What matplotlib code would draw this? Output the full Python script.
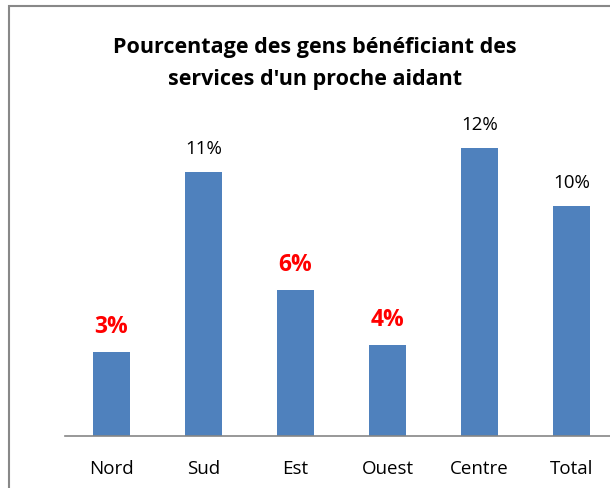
import matplotlib.pyplot as plt
from matplotlib.patches import Rectangle

categories = ['Nord', 'Sud', 'Est', 'Ouest', 'Centre', 'Total']
values = [3.5, 11.0, 6.1, 3.8, 12.0, 9.6]
labels = ['3%', '11%', '6%', '4%', '12%', '10%']
highlight = [True, False, True, True, False, False]

plt.rcParams['font.family'] = ['Open Sans', 'DejaVu Sans']

W, H = 610, 488
fig = plt.figure(figsize=(W / 100, H / 100), dpi=100)

# chart area border (cropped at right and bottom)
fig.patches.append(Rectangle((9 / W, -0.1), 1.2, (H - 6) / H + 0.1,
                             transform=fig.transFigure, fill=False,
                             edgecolor='#888888', linewidth=1.5))

ax = fig.add_axes([65 / W, (H - 436) / H, 553 / W, 336 / H])
ax.bar(range(len(values)), values, width=0.4, color='#4F81BD')
ax.set_xlim(-0.5, 5.5)
ax.set_ylim(0, 14)

for i, (v, lab, hl) in enumerate(zip(values, labels, highlight)):
    if hl:
        ax.annotate(lab, (i, v), xytext=(0, 25), textcoords='offset pixels',
                    ha='center', va='center', color='red', fontweight='bold',
                    fontsize=16.5)
    else:
        ax.annotate(lab, (i, v), xytext=(0, 23), textcoords='offset pixels',
                    ha='center', va='center', color='black', fontsize=13.5)

# category labels
for i, cat in enumerate(categories):
    ax.annotate(cat, (i, 0), xytext=(0, -33), textcoords='offset pixels',
                ha='center', va='center', fontsize=13.5)

ax.set_xticks([])
ax.set_yticks([])
for s in ['top', 'right', 'left']:
    ax.spines[s].set_visible(False)
ax.spines['bottom'].set_color('#868686')
ax.spines['bottom'].set_linewidth(1.2)

fig.text(315 / W, 1 - 47 / H, 'Pourcentage des gens bénéficiant des',
         ha='center', va='center', fontsize=15.5, fontweight='bold')
fig.text(315 / W, 1 - 79 / H, "services d'un proche aidant",
         ha='center', va='center', fontsize=15.5, fontweight='bold')

fig.savefig('out.png', dpi=100)
